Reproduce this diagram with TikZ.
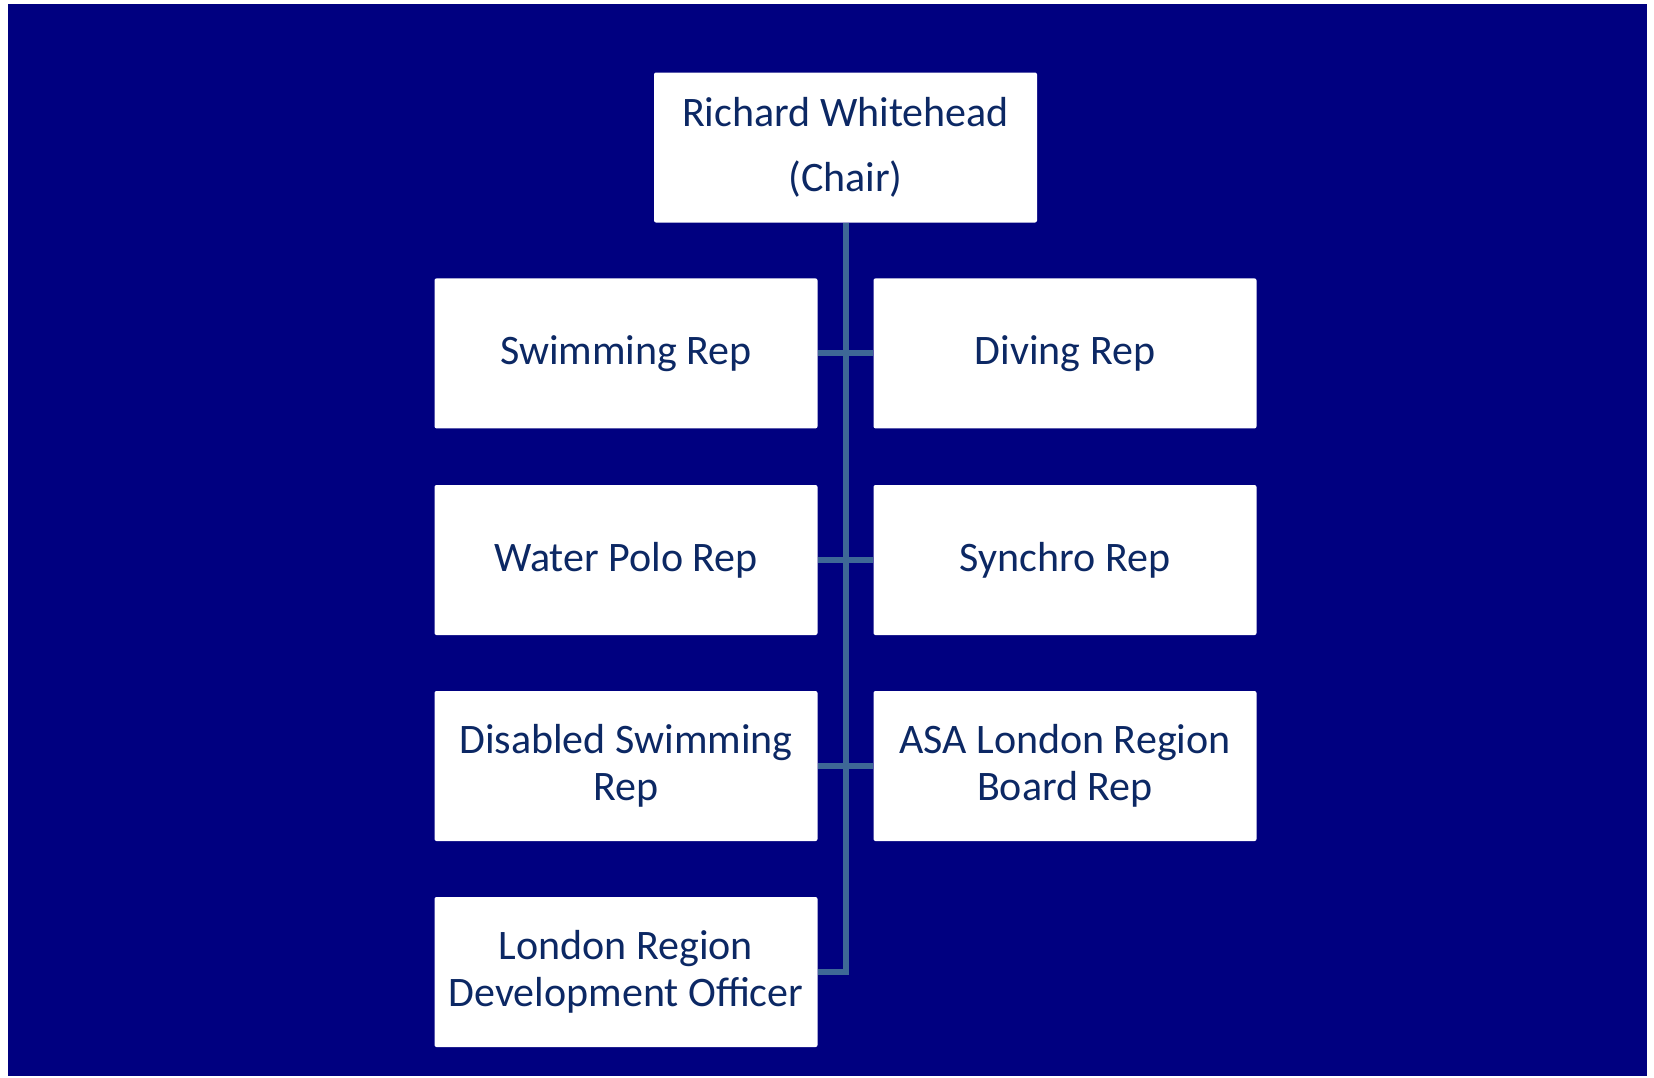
\documentclass[tikz,border=0pt]{standalone}
\usepackage{fontspec}
\setmainfont{Carlito}
\definecolor{bgblue}{RGB}{0,0,128}
\definecolor{linkblue}{RGB}{62,104,150}
\definecolor{txtblue}{RGB}{12,40,100}
\begin{document}
\begin{tikzpicture}[x=0.5pt,y=-0.5pt,
  box/.style={draw=none,fill=white,rounded corners=1pt,minimum width=191.5pt,minimum height=75pt,
    inner sep=0pt,align=center,text=txtblue,font=\fontsize{21}{23.7}\selectfont},
  link/.style={draw=linkblue,line width=3pt}]
\useasboundingbox (0,0) rectangle (1654,1077);
\fill[white] (0,0) rectangle (1654,1077);
\fill[bgblue] (8,4) rectangle (1647,1076);
\node[box,font=\fontsize{21}{32.7}\selectfont] (chair) at (845.5,147.5) {Richard Whitehead\\(Chair)};
\node[box] (l1) at (626,353.4) {Swimming Rep};
\node[box] (r1) at (1065,353.4) {Diving Rep};
\node[box] (l2) at (626,560) {Water Polo Rep};
\node[box] (r2) at (1065,560) {Synchro Rep};
\node[box] (l3) at (626,766) {Disabled Swimming\\Rep};
\node[box] (r3) at (1065,766) {ASA London Region\\Board Rep};
\node[box] (l4) at (626,972) {London Region\\Development Officer};
\draw[link] (chair.south) |- (l4.east);
\draw[link] (l1.east) -- (r1.west);
\draw[link] (l2.east) -- (r2.west);
\draw[link] (l3.east) -- (r3.west);
\end{tikzpicture}
\end{document}
